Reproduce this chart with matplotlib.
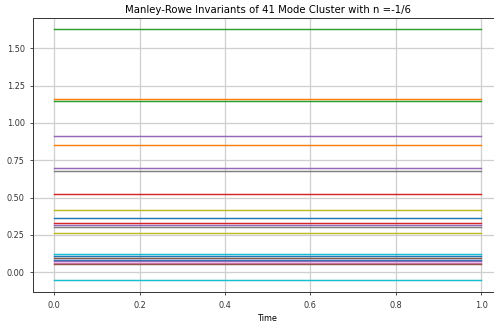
import matplotlib
matplotlib.use('Agg')
import matplotlib.pyplot as plt
import numpy as np

# time samples (two end points of the run)
time = [0.0, 1.0]

# invariant values, read top to bottom, with the colour each line shows
invariants = [1.626, 1.157, 1.148, 0.912, 0.854, 0.700, 0.678, 0.526,
              0.418, 0.362, 0.328, 0.317, 0.305, 0.260,
              0.120, 0.112, 0.094, 0.083, 0.073, 0.064, 0.058, -0.049]
line_colors = ['tab:green', 'tab:orange', 'tab:green', 'tab:purple', 'tab:orange',
               'tab:purple', 'tab:gray', 'tab:red',
               'tab:olive', 'tab:blue', 'tab:red', 'tab:purple', 'tab:gray', 'tab:olive',
               'tab:cyan', 'tab:blue', 'tab:brown', 'tab:blue', 'tab:purple', 'tab:pink',
               'tab:brown', 'tab:cyan']

title = 'Manley-Rowe Invariants of 41 Mode Cluster with n =-1/6'

fig = plt.figure(figsize=(4.94, 3.25), dpi=100)
# axes run past the right edge, like the cropped original
ax = fig.add_axes([33 / 494, (325 - 292.3) / 325, (502.5 - 33) / 494, (292.3 - 18.3) / 325])

for val, col in zip(invariants, line_colors):
    ax.plot(time, [val, val], color=col, lw=1.05)

ax.set_xlim(-0.05, 1.05)
ax.set_ylim(-0.134, 1.70)
ax.set_xticks([0.0, 0.2, 0.4, 0.6, 0.8, 1.0])
ax.set_yticks([0.0, 0.25, 0.5, 0.75, 1.0, 1.25, 1.5])
ax.set_yticklabels([f'{t:.2f}' for t in [0.0, 0.25, 0.5, 0.75, 1.0, 1.25, 1.5]])
ax.grid(True, color='#cfcfcf', lw=0.9)
ax.set_axisbelow(True)
ax.tick_params(labelsize=5.9, length=2.5, width=0.6, colors='#333333')
for s in ax.spines.values():
    s.set_linewidth(0.7)
    s.set_color('#333333')
ax.set_xlabel('Time', fontsize=5.9, labelpad=3)
ax.set_title(title, fontsize=7.3, pad=4)

fig.savefig('out.png', dpi=100)
